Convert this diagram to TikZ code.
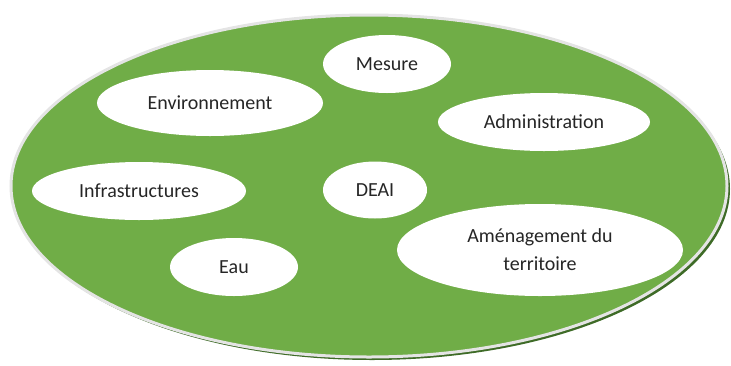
\documentclass[tikz,border=0pt]{standalone}
\usepackage{fontspec}
\setmainfont{Carlito}
\usepackage{tikz}
\usetikzlibrary{shapes,positioning}

\definecolor{plategreen}{HTML}{70AD47}
\definecolor{shadegreen}{HTML}{3E6B27}
\definecolor{rimgray}{HTML}{E4E4E4}

\begin{document}
\begin{tikzpicture}[
        x=1pt, y=-1pt,
        field/.style={ellipse, fill=white, inner sep=0pt, align=center, text=black!85, font=\fontsize{20}{28}\selectfont},
        plate/.style={ellipse, fill=plategreen, draw=rimgray, line width=3pt, minimum width=716pt, minimum height=342pt}
    ]
        \useasboundingbox (0,0) rectangle (731,365);

        % Plate with shadow
        \node[ellipse, fill=shadegreen, minimum width=716pt, minimum height=342pt] (shadow) at (372,189) {};
        \node[plate] (plate) at (369,186) {};

        % Fields
        \node[field, minimum width=128pt, minimum height=58pt] (mesure) at (387,64) {Mesure};
        \node[field, minimum width=226pt, minimum height=66pt] (env) at (210,103) {Environnement};
        \node[field, minimum width=212pt, minimum height=58pt] (admin) at (544,122) {Administration};
        \node[field, minimum width=214pt, minimum height=58pt] (infra) at (139,191) {Infrastructures};
        \node[field, minimum width=104pt, minimum height=57pt] (deai) at (375,190) {DEAI};
        \node[field, minimum width=128pt, minimum height=58pt] (eau) at (234,267) {Eau};
        \node[field, minimum width=286pt, minimum height=92pt] (amenag) at (540,250) {Aménagement du\\territoire};
    \end{tikzpicture}
\end{document}
